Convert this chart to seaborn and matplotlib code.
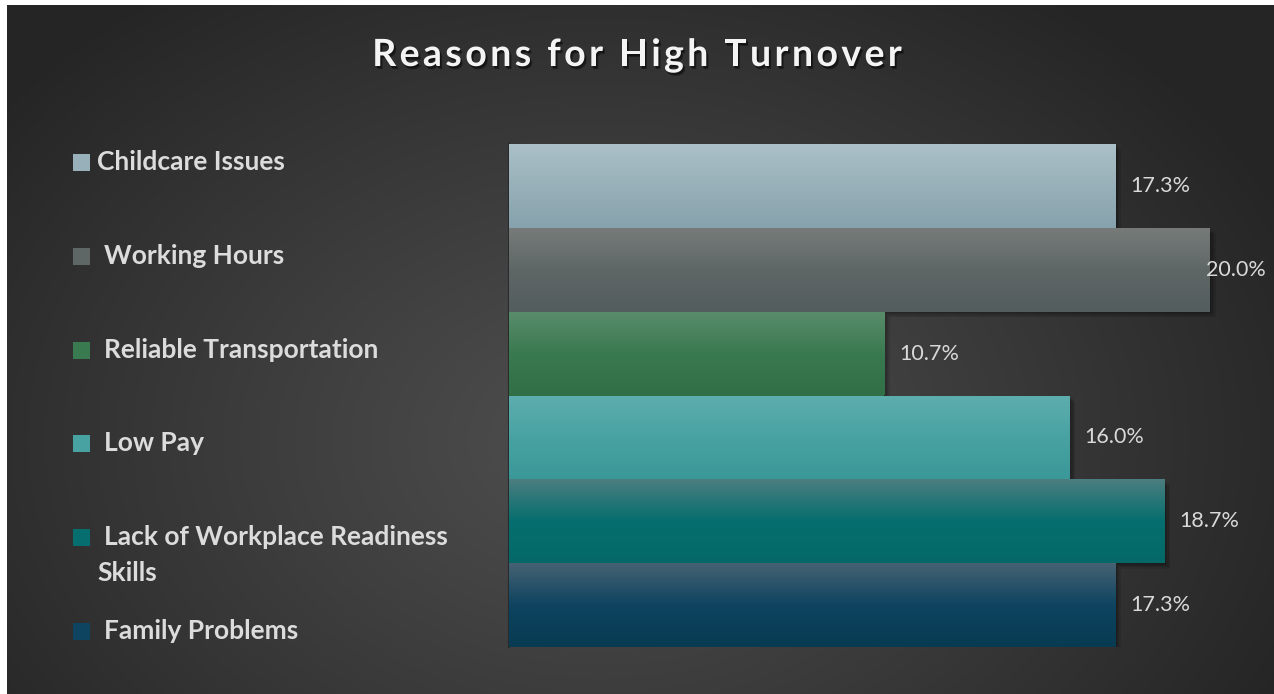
import numpy as np
import pandas as pd
import matplotlib
matplotlib.use("Agg")
import matplotlib.pyplot as plt
import matplotlib.patheffects as pe
from matplotlib.colors import to_rgb
from matplotlib.patches import Rectangle
from matplotlib.font_manager import FontProperties
import seaborn as sns

# ---- data -------------------------------------------------------------
reasons = [
    "Childcare Issues",
    "Working Hours",
    "Reliable Transportation",
    "Low Pay",
    "Lack of Workplace Readiness Skills",
    "Family Problems",
]
shares = [17.3, 20.0, 10.7, 16.0, 18.7, 17.3]
title = "Reasons for High Turnover"

# vertical gradient stops per bar: top, middle, bottom
bar_gradients = [
    ("#abc0c7", "#98b0b9", "#86a2ac"),
    ("#767b79", "#5f6766", "#535d5d"),
    ("#5a8c6c", "#3a7a50", "#317047"),
    ("#5eaeae", "#49a2a2", "#3b9898"),
    ("#4c7e80", "#066e6e", "#046868"),
    ("#466273", "#0e4460", "#083b52"),
]

W, H = 1274, 694
DPI = 100

sns.set_style("white")
plt.rcParams["font.family"] = ["Lato", "DejaVu Sans"]


def fx(px):
    return px / W


def fy(py):
    return 1 - py / H


fig = plt.figure(figsize=(W / DPI, H / DPI), dpi=DPI, facecolor="white")

# ---- radial background ------------------------------------------------
bg = fig.add_axes([0, 0, 1, 1], zorder=-10)
yy, xx = np.mgrid[0:H, 0:W]
t = np.sqrt(((xx - 600) / 760.0) ** 2 + ((yy - 440) / 560.0) ** 2)
t = np.clip(t, 0, 1) ** 1.1
light = np.array(to_rgb("#4e4e4e"))
dark = np.array(to_rgb("#252525"))
img = light[None, None, :] + (dark - light)[None, None, :] * t[..., None]
img[:5, :, :] = 1.0
img[:, :7, :] = 1.0
bg.imshow(img, extent=(0, W, H, 0), aspect="auto", interpolation="bilinear")
bg.set_xlim(0, W)
bg.set_ylim(H, 0)
bg.axis("off")

# ---- bars -------------------------------------------------------------
df = pd.DataFrame({"reason": reasons, "share": shares})
ax = fig.add_axes([fx(509), fy(647), fx(1245) - fx(509), fy(144) - fy(647)])
ax.set_facecolor("none")
sns.barplot(
    data=df, x="share", y="reason", hue="reason",
    palette=[g[2] for g in bar_gradients], orient="h",
    width=1.0, legend=False, ax=ax, saturation=1,
)

shadow = [
    pe.SimplePatchShadow(offset=(k, -k), shadow_rgbFace="black", alpha=0.10)
    for k in (1.0, 2.0, 3.0, 4.0)
] + [pe.Normal()]

for i, (patch, stops) in enumerate(zip(ax.patches, bar_gradients)):
    x0, y0 = patch.get_x(), patch.get_y()
    w, h = patch.get_width(), patch.get_height()
    patch.set_edgecolor("none")
    patch.set_zorder(2 + 2 * i)
    patch.set_path_effects(shadow)
    n = 256
    s = np.linspace(0, 1, n)
    cols = np.array([to_rgb(c) for c in stops])
    grad = np.empty((n, 1, 3))
    for ch in range(3):
        grad[:, 0, ch] = np.interp(s, [0, 0.5, 1], cols[:, ch])
    im = ax.imshow(grad, extent=(x0, x0 + w, y0 + h, y0), origin="upper",
                   aspect="auto", interpolation="bilinear", zorder=3 + 2 * i)
    im.set_clip_path(patch)

ax.set_xlim(0, 21)
ax.set_ylim(len(reasons) - 0.5, -0.5)
ax.set_xticks([])
ax.set_yticks([])
ax.set_xlabel("")
ax.set_ylabel("")
for side in ("top", "right", "bottom"):
    ax.spines[side].set_visible(False)
ax.spines["left"].set_color("#2a2a2a")
ax.spines["left"].set_linewidth(1.5)
ax.spines["left"].set_zorder(1)

# ---- value labels -----------------------------------------------------
labels = []
for i, v in enumerate(shares):
    t_ = ax.annotate(f"{v:.1f}%", xy=(v, i), xytext=(15, 0),
                     textcoords="offset pixels", va="center", ha="left",
                     fontsize=15.5, color="#d9d9d9", zorder=20,
                     annotation_clip=False)
    labels.append(t_)

fig.canvas.draw()
r = fig.canvas.get_renderer()
for t_ in labels:
    bb = t_.get_window_extent(r)
    limit = 1266
    if bb.x1 > limit:
        dx = bb.x1 - limit
        ox, oy = t_.xyann
        t_.xyann = (ox - dx, oy)

# ---- title (letter-spaced) --------------------------------------------
tprop = FontProperties(family=["Lato", "DejaVu Sans"], weight="bold", size=27)
spacing = 3.4  # px between glyphs


def text_w(s):
    if not s:
        return 0.0
    w_, _, _ = r.get_text_width_height_descent(s, tprop, ismath=False)
    return w_


total = text_w(title) + spacing * (len(title) - 1)
left = W / 2 - total / 2
title_fx = [pe.SimplePatchShadow(offset=(1.0, -1.5), shadow_rgbFace="black",
                                 alpha=0.35),
            pe.SimplePatchShadow(offset=(1.6, -2.2), shadow_rgbFace="black",
                                 alpha=0.35),
            pe.Normal()]
for i, ch in enumerate(title):
    if ch == " ":
        continue
    right_edge = text_w(title[: i + 1])
    xpos = left + right_edge - text_w(ch) + spacing * i
    fig.text(fx(xpos), fy(66), ch, ha="left", va="baseline",
             fontproperties=tprop, color="#f4f4f4", path_effects=title_fx)

# ---- legend -----------------------------------------------------------
legend_y = [162, 256, 350, 443, 537, 631]
legend_lines = [
    ["Childcare Issues"],
    ["Working Hours"],
    ["Reliable Transportation"],
    ["Low Pay"],
    ["Lack of Workplace Readiness", "Skills"],
    ["Family Problems"],
]
lsize = 19
line_gap = 36  # px between wrapped lines
for i, (py, lines, stops) in enumerate(zip(legend_y, legend_lines, bar_gradients)):
    fig.add_artist(Rectangle((fx(73), fy(py + 8.5)), fx(17), 17 / H,
                             transform=fig.transFigure,
                             facecolor=stops[1], edgecolor="none"))
    for j, line in enumerate(lines):
        tx = 97 if (i == 0 or j > 0) else 104
        fig.text(fx(tx), fy(py + j * line_gap), line, ha="left", va="center",
                 fontsize=lsize, fontweight="bold", color="#dcdcdc")

fig.savefig("out.png", dpi=DPI, facecolor="white")
